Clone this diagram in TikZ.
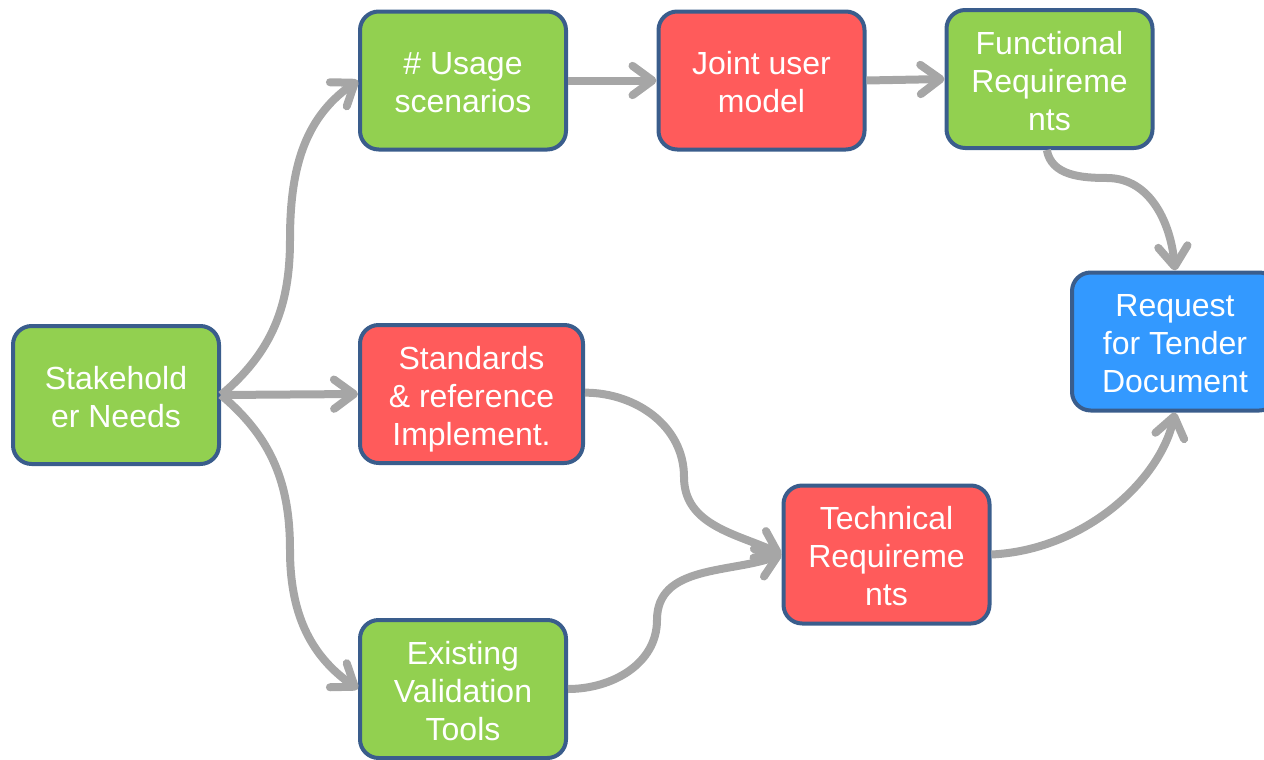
\documentclass[tikz,border=0pt]{standalone}
\usepackage{fontspec}
\setmainfont{Liberation Sans}
\usetikzlibrary{arrows.meta}
\definecolor{boxgreen}{HTML}{92D050}
\definecolor{boxred}{HTML}{FF5B5B}
\definecolor{boxblue}{HTML}{3399FF}
\definecolor{boxline}{HTML}{3A5D8C}
\definecolor{arrgray}{HTML}{A6A6A6}
\newcommand\topst{\rule{0pt}{26.2pt}}
\newcommand\botst{\rule[-6pt]{0pt}{6pt}}
\tikzset{
  box/.style={draw=boxline, line width=3pt, rounded corners=14pt,
    minimum width=206*0.75pt, minimum height=138*0.75pt,
    text=white, align=center, inner sep=0pt,
    font=\fontsize{24pt}{28.5pt}\selectfont},
  gbox/.style={box, fill=boxgreen},
  rbox/.style={box, fill=boxred},
  bbox/.style={box, fill=boxblue},
  conn/.style={draw=arrgray, line width=6pt,
    -{Straight Barb[length=15pt,width=22pt,round]}},
}
\begin{document}
\begin{tikzpicture}[x=0.75pt,y=-0.75pt]
\useasboundingbox (0,0) rectangle (1264,760);
\node[gbox] (sn) at (116,395) {\topst Stakehold\\er Needs\botst};
\node[gbox] (us) at (463,80.5) {\topst\# Usage\\scenarios\botst};
\node[rbox] (ju) at (761.5,80.5) {\topst Joint user\\model\botst};
\node[gbox] (fr) at (1049.5,79) {\topst Functional\\Requireme\\nts\botst};
\node[bbox] (rt) at (1175,341.5) {\topst Request\\for Tender\\Document\botst};
\node[rbox, minimum width=223*0.75pt] (st) at (471.5,394) {\topst Standards\\\& reference\\Implement.\botst};
\node[rbox] (tr) at (886.5,554.5) {\topst Technical\\Requireme\\nts\botst};
\node[gbox] (ev) at (463,689) {\topst Existing\\Validation\\Tools\botst};

\coordinate (v1) at (290,240);
\coordinate (v2) at (290,550);
\coordinate (v3) at (1107,178);
\coordinate (v4) at (684,477);
\coordinate (v5) at (657,620);

\draw[conn] (sn.east) to[out=40,in=-90] (v1) to[out=90,in=215] (us.west);
\draw[conn] (sn.east) -- (st.west);
\draw[conn] (sn.east) to[out=-40,in=90] (v2) to[out=-90,in=145] (ev.west);
\draw[conn] (us.east) to[out=0,in=180] (ju.west);
\draw[conn] (ju.east) -- (fr.west);
\draw[conn] ([xshift=-2pt]fr.south) to[out=-80,in=180] (v3) to[out=0,in=95] (rt.north);
\draw[conn] ([yshift=1pt]st.east) to[out=0,in=90] (v4) to[out=-90,in=155] (tr.west);
\draw[conn] (ev.east) to[out=0,in=-90] (v5) to[out=90,in=200] (tr.west);
\draw[conn] (tr.east) .. controls (1085,550) and (1160,480) .. (rt.south);
\end{tikzpicture}
\end{document}
